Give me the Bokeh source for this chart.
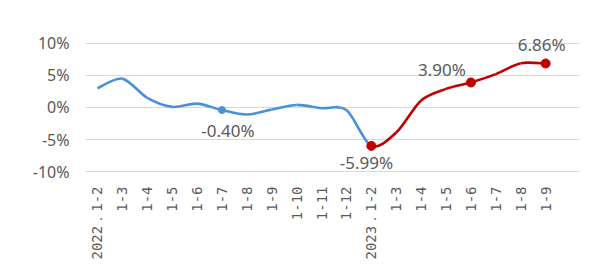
import math
from bokeh.plotting import figure
from bokeh.models import FixedTicker, Label, Range1d
from bokeh.embed import file_html
from bokeh.resources import INLINE

# ---- data ----
tick_labels = ["2022．1-2", "1-3", "1-4", "1-5", "1-6", "1-7", "1-8", "1-9", "1-10",
               "1-11", "1-12", "2023．1-2", "1-3", "1-4", "1-5", "1-6", "1-7", "1-8", "1-9"]
values = [3.0, 4.5, 1.5, 0.1, 0.6, -0.40, -1.1, -0.3, 0.4, -0.1, -0.4, -5.99,
          -3.9, 1.1, 2.9, 3.90, 5.2, 6.9, 6.86]
split_index = 11          # 2023 series starts here
blue_marks = [5]
red_marks = [11, 15, 18]
label_index = [5, 11, 15, 18]
label_dx = [6, -5, -29, -4]
label_dy = [-20, -17, 13, 19]

BLUE = "#4a8fd8"
RED = "#c00000"
GRAY = "#595959"

n = len(values)
xs = list(range(n))

p = figure(width=600, height=276, output_backend="svg", toolbar_location=None,
           x_range=Range1d(-0.48, 19.4), y_range=Range1d(-10.6, 12.0),
           min_border_left=85, min_border_right=20, min_border_top=30, min_border_bottom=101)
p.outline_line_color = None
p.background_fill_color = "white"
p.border_fill_color = "white"


def bez(i0, i1, t=0.15):
    x0, y0, x1, y1, cx0, cy0, cx1, cy1 = [], [], [], [], [], [], [], []
    for i in range(i0, i1):
        im = max(i - 1, 0)
        ip = min(i + 2, n - 1)
        x0.append(xs[i]); y0.append(values[i])
        x1.append(xs[i + 1]); y1.append(values[i + 1])
        cx0.append(xs[i] + (xs[i + 1] - xs[im]) * t)
        cy0.append(values[i] + (values[i + 1] - values[im]) * t)
        cx1.append(xs[i + 1] - (xs[ip] - xs[i]) * t)
        cy1.append(values[i + 1] - (values[ip] - values[i]) * t)
    return dict(x0=x0, y0=y0, x1=x1, y1=y1, cx0=cx0, cy0=cy0, cx1=cx1, cy1=cy1)


p.bezier(**bez(0, split_index), line_color=BLUE, line_width=2.6)
p.bezier(**bez(split_index, n - 1), line_color=RED, line_width=2.6)

p.scatter([xs[i] for i in blue_marks], [values[i] for i in blue_marks], size=7,
          fill_color=BLUE, line_color=BLUE)
p.scatter([xs[i] for i in red_marks], [values[i] for i in red_marks], size=9,
          fill_color=RED, line_color=RED)

for i, dx, dy in zip(label_index, label_dx, label_dy):
    p.add_layout(Label(x=xs[i], y=values[i], text=f"{values[i]:.2f}%", x_offset=dx, y_offset=dy,
                       text_align="center", text_baseline="middle", text_color=GRAY,
                       text_font="Noto Sans", text_font_size="17px"))

# axes
p.yaxis.ticker = FixedTicker(ticks=[-10, -5, 0, 5, 10])
p.yaxis.major_label_overrides = {t: f"{t}%" for t in [-10, -5, 0, 5, 10]}
p.yaxis.axis_line_color = None
p.yaxis.major_tick_line_color = None
p.yaxis.minor_tick_line_color = None
p.yaxis.major_label_text_color = GRAY
p.yaxis.major_label_text_font = "Noto Sans"
p.yaxis.major_label_text_font_size = "16px"
p.yaxis.major_label_standoff = 10

p.xaxis.ticker = FixedTicker(ticks=xs)
p.xaxis.major_label_overrides = {i: lab for i, lab in enumerate(tick_labels)}
p.xaxis.major_label_orientation = math.pi / 2
p.xaxis.axis_line_color = None
p.xaxis.major_tick_line_color = None
p.xaxis.minor_tick_line_color = None
p.xaxis.major_label_text_color = GRAY
p.xaxis.major_label_text_font = "DejaVu Sans Mono"
p.xaxis.major_label_text_font_size = "14px"
p.xaxis.major_label_standoff = 5

p.xgrid.grid_line_color = None
p.ygrid.ticker = FixedTicker(ticks=[-10, -5, 0, 5, 10])
p.ygrid.bounds = (-0.48, 18.48)
p.ygrid.grid_line_color = "#d9d9d9"
p.ygrid.grid_line_width = 1

open("out.html", "w").write(file_html(p, INLINE))
